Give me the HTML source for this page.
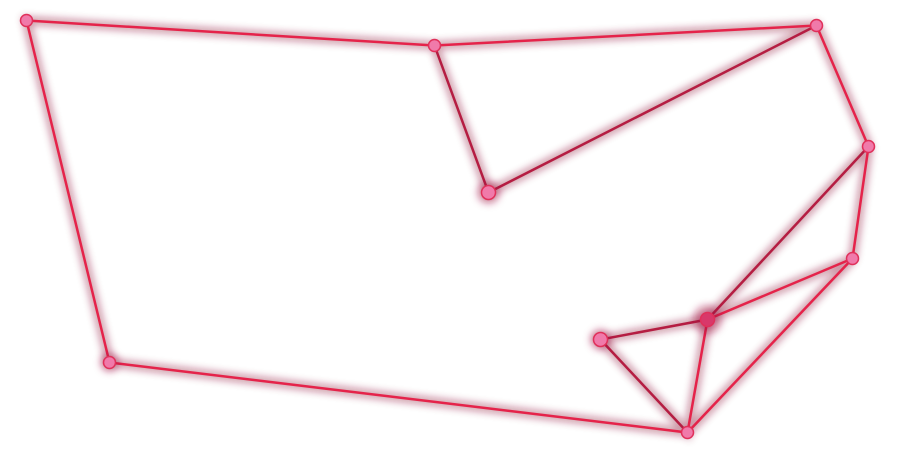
<!DOCTYPE html>
<html><head><style>html,body{margin:0;padding:0;background:#fff;width:900px;height:467px;overflow:hidden}</style></head>
<body>
<svg width="900" height="467" viewBox="0 0 900 467" xmlns="http://www.w3.org/2000/svg">
<defs>
<filter id="g" x="-20%" y="-20%" width="140%" height="140%"><feGaussianBlur stdDeviation="4"/></filter>
</defs>
<g transform="translate(0.5,0.5)">
<g fill="none" stroke-linecap="round">
<g stroke="#8a1030" stroke-width="8" opacity="0.45" filter="url(#g)">
<path d="M26,20L434,45L816,25L868,146L852,258L687,432L109,362Z M434,45L488,192L816,25 M868,146L707,319L852,258 M707,319L600,339L687,432L707,319"/>
</g>
<g stroke="#e5234a" stroke-width="2.5">
<path d="M26,20L434,45L816,25L868,146L852,258L687,432L109,362Z M852,258L707,319 M707,319L687,432"/>
</g>
<g stroke="#b51d42" stroke-width="2.5">
<path d="M434,45L488,192L816,25 M868,146L707,319 M707,319L600,339L687,432"/>
</g>
</g>
<g filter="url(#g)" fill="#a01040" opacity="0.5">
<circle cx="488" cy="192" r="11"/><circle cx="707" cy="319" r="14"/><circle cx="600" cy="339" r="10"/><circle cx="109" cy="362" r="9"/>
</g>
<g fill="#f07aaa" stroke="#e0305a" stroke-width="1.5">
<circle cx="26" cy="20" r="6"/><circle cx="434" cy="45" r="6"/><circle cx="816" cy="25" r="6"/><circle cx="868" cy="146" r="6"/><circle cx="852" cy="258" r="6"/><circle cx="687" cy="432" r="6"/><circle cx="109" cy="362" r="6"/><circle cx="488" cy="192" r="7"/><circle cx="600" cy="339" r="7"/>
<circle cx="707" cy="319" r="7" fill="#d8386a"/>
</g>
</g>
</svg>
</body></html>
